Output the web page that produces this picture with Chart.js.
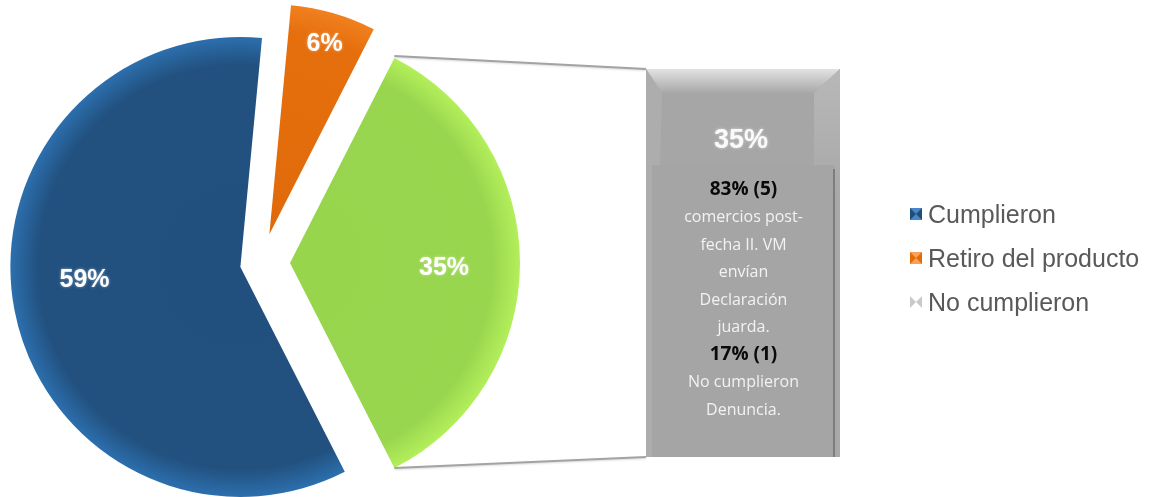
<!DOCTYPE html>
<html>
<head>
<meta charset="utf-8">
<script src="https://cdn.jsdelivr.net/npm/chart.js@4.4.1/dist/chart.umd.min.js"></script>
<style>
    html, body { margin: 0; padding: 0; background: #fff; }
    body { width: 1164px; height: 497px; position: relative; overflow: hidden; font-family: 'Liberation Sans', Arial, sans-serif; }
    #pie { position: absolute; left: 0; top: 0; }
    #bar { position: absolute; left: 646px; top: 69px; }
    #legend { position: absolute; left: 910px; top: 192px; margin: 0; padding: 0; list-style: none; }
    #legend li { display: flex; align-items: center; height: 44px; font-size: 25px; color: #595959; }
    .mark { width: 0; height: 0; border-style: solid; border-width: 6px; margin-right: 6px; }
</style>
</head>
<body>
<canvas id="pie" width="1164" height="497"></canvas>
<canvas id="bar" width="194" height="388"></canvas>
<ul id="legend"></ul>

<script>
// datos del gráfico
const categories = ['Cumplieron', 'Retiro del producto', 'No cumplieron'];
const shares = [59, 6, 35];
const barCategory = ['No cumplieron'];
const barValues = [35];
const breakdownHeads = ['83% (5)', '17% (1)'];
const breakdownNotes = [
    ['comercios post-', 'fecha II. VM', 'envían', 'Declaración', 'juarda.'],
    ['No cumplieron', 'Denuncia.']
];

// estilos
const sliceColors = [
    ['#21507f', '#22517f', '#2c6fae'],
    ['#e06a0a', '#e66f0d', '#f1801f'],
    ['#97d54d', '#99d64f', '#b3ef5a']
];
const legendMarks = [
    ['#1f4e79', '#4a86c5'],
    ['#e36c09', '#f9a05a'],
    ['#c9c9c9', '#ffffff']
];
const explode = [21, 30, 29];
const labelDist = [0.68, 0.86, 0.67];
const labelTurn = [6, 0, 2];
const pieRadius = 230;
const pieRotation = 153;
const BAR_LEFT = 646, BAR_TOP = 69;

function sliceFill(c) {
    const chart = c.chart;
    const area = chart.chartArea;
    const i = c.dataIndex;
    if (!area) return sliceColors[i][1];
    const total = shares.reduce((a, b) => a + b, 0);
    let start = (pieRotation - 90) * Math.PI / 180;
    for (let j = 0; j < i; j++) start += shares[j] / total * 2 * Math.PI;
    const mid = start + shares[i] / total * Math.PI;
    const cx = (area.left + area.right) / 2 + Math.cos(mid) * explode[i];
    const cy = (area.top + area.bottom) / 2 + Math.sin(mid) * explode[i];
    const g = chart.ctx.createRadialGradient(cx, cy, 0, cx, cy, pieRadius);
    g.addColorStop(0, sliceColors[i][0]);
    g.addColorStop(0.88, sliceColors[i][1]);
    g.addColorStop(1, sliceColors[i][2]);
    return g;
}

// bevel + texto de la columna
const columnPlugin = {
    id: 'columnText',
    afterDatasetsDraw(chart) {
        const ctx = chart.ctx;
        const bar = chart.getDatasetMeta(0).data[0];
        const left = bar.x - bar.width / 2;
        const right = bar.x + bar.width / 2;
        const top = bar.y;
        const base = bar.base;
        ctx.save();

        // cara superior
        const tg = ctx.createLinearGradient(0, top, 0, top + 24);
        tg.addColorStop(0, '#e2e2e2');
        tg.addColorStop(1, '#a8a8a8');
        ctx.fillStyle = tg;
        ctx.beginPath();
        ctx.moveTo(left, top);
        ctx.lineTo(right, top);
        ctx.lineTo(right - 26, top + 24);
        ctx.lineTo(left + 16, top + 24);
        ctx.closePath();
        ctx.fill();

        // cara derecha
        const rg = ctx.createLinearGradient(0, top, 0, top + 120);
        rg.addColorStop(0, '#b8b8b8');
        rg.addColorStop(1, '#a9a9a9');
        ctx.fillStyle = rg;
        ctx.beginPath();
        ctx.moveTo(right, top);
        ctx.lineTo(right, base);
        ctx.lineTo(right - 26, base);
        ctx.lineTo(right - 26, top + 24);
        ctx.closePath();
        ctx.fill();

        // cara izquierda
        ctx.fillStyle = '#adadad';
        ctx.beginPath();
        ctx.moveTo(left, top);
        ctx.lineTo(left + 16, top + 24);
        ctx.lineTo(left + 6, base);
        ctx.lineTo(left, base);
        ctx.closePath();
        ctx.fill();

        // valor
        ctx.font = 'bold 27px "Liberation Sans", Arial, sans-serif';
        ctx.textAlign = 'center';
        ctx.textBaseline = 'middle';
        ctx.shadowColor = 'rgba(255,255,255,0.6)';
        ctx.shadowBlur = 3;
        ctx.fillStyle = '#fafafa';
        ctx.fillText(barValues[0] + '%', bar.x - 2, top + 72);
        ctx.shadowBlur = 0;

        // cuadro de texto
        const boxL = left + 6, boxR = right - 5, boxT = top + 96;
        ctx.fillStyle = '#a5a5a5';
        ctx.fillRect(boxL, boxT, boxR - boxL, base - boxT);
        ctx.fillStyle = '#7d7d7d';
        ctx.fillRect(boxR - 2, boxT + 4, 2, base - boxT - 4);

        const cx = (boxL + boxR) / 2;
        let y = top + 121;
        breakdownHeads.forEach((head, k) => {
            ctx.font = 'bold 19px "Open Sans", sans-serif';
            ctx.fillStyle = '#0a0a0a';
            ctx.fillText(head, cx, y);
            y += 27.5;
            breakdownNotes[k].forEach(line => {
                ctx.font = '16px "Open Sans", sans-serif';
                ctx.fillStyle = '#f2f2f2';
                ctx.fillText(line, cx, y);
                y += 27.5;
            });
        });
        ctx.restore();
    }
};

const barChart = new Chart(document.getElementById('bar'), {
    type: 'bar',
    data: {
        labels: barCategory,
        datasets: [{
            data: barValues,
            backgroundColor: '#a6a6a6',
            borderWidth: 0,
            barPercentage: 1,
            categoryPercentage: 1
        }]
    },
    options: {
        responsive: false,
        animation: false,
        layout: { padding: 0 },
        scales: {
            x: { display: false },
            y: { display: false, min: 0, max: barValues[0] }
        },
        plugins: { legend: { display: false }, tooltip: { enabled: false } }
    },
    plugins: [columnPlugin]
});

// separa las porciones
const explodePlugin = {
    id: 'explode',
    afterDatasetUpdate(chart, args) {
        const meta = chart.getDatasetMeta(args.index);
        meta.data.forEach((arc, i) => {
            const mid = (arc.startAngle + arc.endAngle) / 2;
            arc.x += Math.cos(mid) * explode[i];
            arc.y += Math.sin(mid) * explode[i];
        });
    }
};

// etiquetas y líneas de conexión
const pieExtras = {
    id: 'pieExtras',
    afterDatasetsDraw(chart) {
        const ctx = chart.ctx;
        const meta = chart.getDatasetMeta(0);
        ctx.save();
        ctx.font = 'bold 25px "Liberation Sans", Arial, sans-serif';
        ctx.textAlign = 'center';
        ctx.textBaseline = 'middle';
        ctx.fillStyle = '#ffffff';
        ctx.shadowColor = 'rgba(255,255,255,0.5)';
        ctx.shadowBlur = 3;
        meta.data.forEach((arc, i) => {
            const a = (arc.startAngle + arc.endAngle) / 2 + labelTurn[i] * Math.PI / 180;
            const r = arc.outerRadius * labelDist[i];
            ctx.fillText(shares[i] + '%', arc.x + Math.cos(a) * r, arc.y + Math.sin(a) * r);
        });
        ctx.shadowBlur = 0;

        const green = meta.data[2];
        const bar = barChart.getDatasetMeta(0).data[0];
        const bx = BAR_LEFT + bar.x - bar.width / 2;
        const bTop = BAR_TOP + bar.y;
        const bBottom = BAR_TOP + bar.base;
        const p1x = green.x + Math.cos(green.startAngle) * green.outerRadius;
        const p1y = green.y + Math.sin(green.startAngle) * green.outerRadius;
        const p2x = green.x + Math.cos(green.endAngle) * green.outerRadius;
        const p2y = green.y + Math.sin(green.endAngle) * green.outerRadius;
        ctx.strokeStyle = '#a3a3a3';
        ctx.lineWidth = 2;
        ctx.shadowColor = 'rgba(0,0,0,0.15)';
        ctx.shadowBlur = 2;
        ctx.shadowOffsetY = 1;
        ctx.beginPath();
        ctx.moveTo(p1x, p1y - 2);
        ctx.lineTo(bx, bTop);
        ctx.moveTo(p2x, p2y);
        ctx.lineTo(bx, bBottom);
        ctx.stroke();
        ctx.restore();
    }
};

new Chart(document.getElementById('pie'), {
    type: 'pie',
    data: {
        labels: categories,
        datasets: [{
            data: shares,
            backgroundColor: sliceFill,
            borderWidth: 0
        }]
    },
    options: {
        responsive: false,
        animation: false,
        rotation: pieRotation,
        radius: pieRadius,
        layout: { padding: { left: 0, right: 642, top: 29, bottom: 0 } },
        plugins: { legend: { display: false }, tooltip: { enabled: false } }
    },
    plugins: [explodePlugin, pieExtras]
});

// leyenda
const legend = document.getElementById('legend');
categories.forEach((name, i) => {
    const li = document.createElement('li');
    const mark = document.createElement('span');
    mark.className = 'mark';
    const [side, cap] = legendMarks[i];
    mark.style.borderColor = cap + ' ' + side + ' ' + cap + ' ' + side;
    li.appendChild(mark);
    li.appendChild(document.createTextNode(name));
    legend.appendChild(li);
});
</script>
</body>
</html>
